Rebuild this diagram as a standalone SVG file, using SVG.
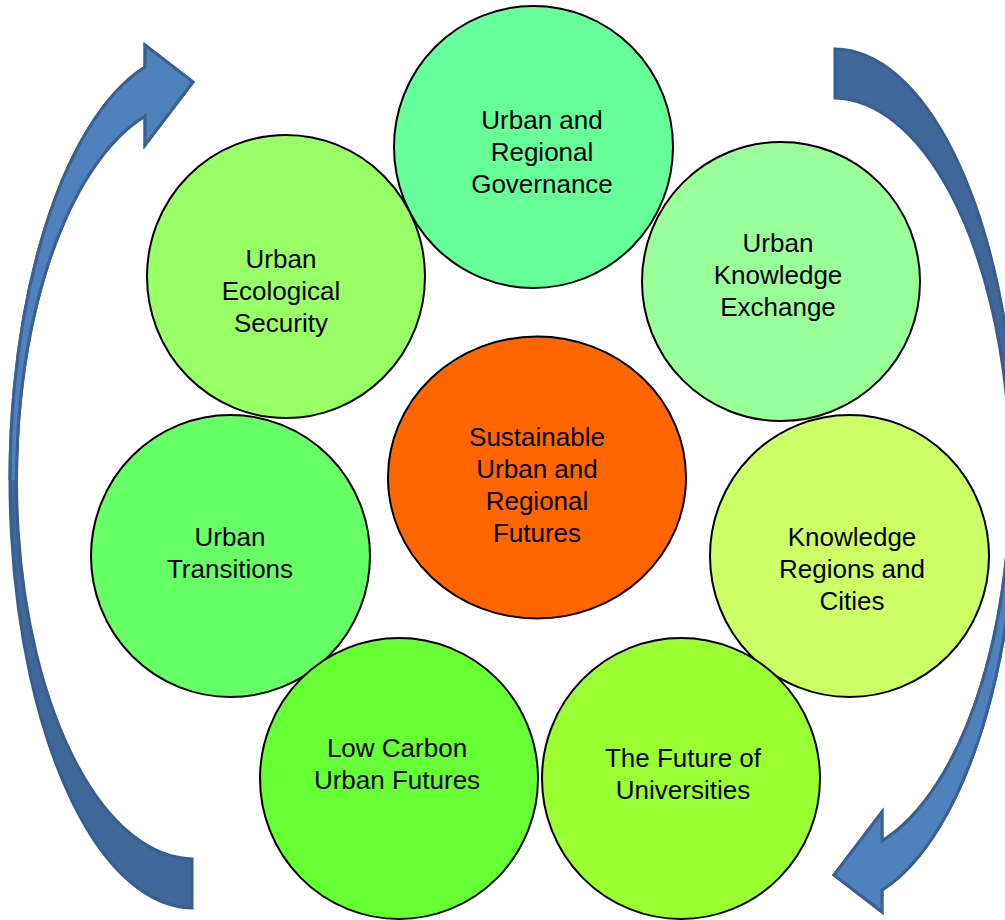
<svg xmlns="http://www.w3.org/2000/svg" width="1005" height="920" viewBox="0 0 1005 920">
<style>
.node{stroke:#000;stroke-width:2}
.lbl{font-family:"Liberation Sans",Arial,sans-serif;font-size:26px;fill:#000;text-anchor:middle}
.arrDark{fill:#3F6899;stroke:#395E8C;stroke-width:3;stroke-linejoin:miter}
.arrLight{fill:#4F81BD;stroke:#3A6190;stroke-width:3;stroke-linejoin:miter}
</style>
<defs>
<clipPath id="upperClip" clipPathUnits="userSpaceOnUse"><rect x="-20" y="-20" width="420" height="500"/></clipPath>
<path id="arrowShape" d="M192,908 A183,428 0 0 1 145,67 L145,45 L193,82 L145,145 L145,116 A178,379 0 0 0 192,859 Z"/>
<g id="curvedArrow">
<use href="#arrowShape" class="arrDark"/>
<use href="#arrowShape" class="arrLight" clip-path="url(#upperClip)"/>
</g>
</defs>
<rect width="1005" height="920" fill="#fff"/>
<g id="connectors">
<use id="arrow-left" href="#curvedArrow"/>
<use id="arrow-right" href="#curvedArrow" transform="rotate(180 513.5 478.5)"/>
</g>
<g id="node-governance">
<ellipse class="node" cx="533.5" cy="147" rx="139.5" ry="141" fill="#66FF99"/>
<text class="lbl" x="542" y="129">Urban and</text>
<text class="lbl" x="542" y="161">Regional</text>
<text class="lbl" x="542" y="193">Governance</text>
</g>
<g id="node-knowledge-exchange">
<ellipse class="node" cx="781" cy="281.5" rx="139" ry="139.5" fill="#99FF99"/>
<text class="lbl" x="778" y="252">Urban</text>
<text class="lbl" x="778" y="284">Knowledge</text>
<text class="lbl" x="778" y="316">Exchange</text>
</g>
<g id="node-ecological-security">
<ellipse class="node" cx="286" cy="276.5" rx="139" ry="141.5" fill="#99FF66"/>
<text class="lbl" x="281" y="268">Urban</text>
<text class="lbl" x="281" y="300">Ecological</text>
<text class="lbl" x="281" y="332">Security</text>
</g>
<g id="node-transitions">
<ellipse class="node" cx="230.5" cy="556" rx="139.5" ry="141" fill="#66FF66"/>
<text class="lbl" x="230" y="546">Urban</text>
<text class="lbl" x="230" y="578">Transitions</text>
</g>
<g id="node-knowledge-regions">
<ellipse class="node" cx="849.5" cy="556" rx="139.5" ry="141" fill="#CCFF66"/>
<text class="lbl" x="852" y="546">Knowledge</text>
<text class="lbl" x="852" y="578">Regions and</text>
<text class="lbl" x="852" y="610">Cities</text>
</g>
<g id="node-low-carbon">
<ellipse class="node" cx="399" cy="778.5" rx="139" ry="140.5" fill="#66FF33"/>
<text class="lbl" x="397" y="757">Low Carbon</text>
<text class="lbl" x="397" y="789">Urban Futures</text>
</g>
<g id="node-universities">
<ellipse class="node" cx="681" cy="778.5" rx="139" ry="140.5" fill="#99FF33"/>
<text class="lbl" x="683" y="767">The Future of</text>
<text class="lbl" x="683" y="799">Universities</text>
</g>
<g id="node-center">
<ellipse class="node" cx="537" cy="477.5" rx="149" ry="141" fill="#FF6600"/>
<text class="lbl" x="537" y="446">Sustainable</text>
<text class="lbl" x="537" y="478">Urban and</text>
<text class="lbl" x="537" y="510">Regional</text>
<text class="lbl" x="537" y="542">Futures</text>
</g>
</svg>
